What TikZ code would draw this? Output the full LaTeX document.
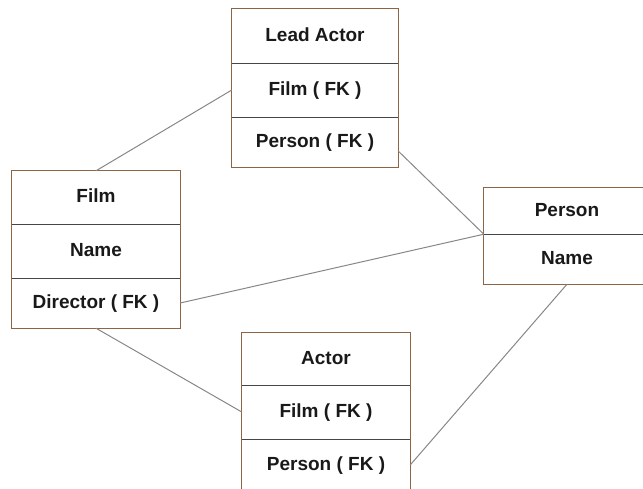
\documentclass[tikz,border=0pt]{standalone}
\usepackage{fontspec}
\setmainfont{Liberation Sans}
\definecolor{boxbrown}{RGB}{140,100,70}
\definecolor{divgray}{RGB}{70,70,70}
\definecolor{linkgray}{RGB}{135,135,135}
\begin{document}
\begin{tikzpicture}[x=1pt,y=-1pt,
  row/.style={inner sep=0pt, text height=14pt, text depth=4pt,
    font=\fontsize{19}{22}\selectfont\bfseries, text=black!90},
  frame/.style={draw=boxbrown, line width=1pt},
  divider/.style={draw=divgray, line width=0.9pt},
  link/.style={draw=linkgray, line width=1pt}]
\useasboundingbox (0,0) rectangle (643,488);
% Lead Actor
\node[row, minimum width=166pt, minimum height=54pt] (la1) at (315,36) {Lead Actor};
\node[row, minimum width=166pt, minimum height=54pt] (la2) at (315,90) {Film ( FK )};
\node[row, minimum width=166pt, minimum height=50pt] (la3) at (315,142) {Person ( FK )};
% Film
\node[row, minimum width=168pt, minimum height=53pt] (fi1) at (96,197.5) {Film};
\node[row, minimum width=168pt, minimum height=54pt] (fi2) at (96,251) {Name};
\node[row, minimum width=168pt, minimum height=50pt] (fi3) at (96,303) {Director ( FK )};
% Person
\node[row, minimum width=166pt, minimum height=46pt] (pe1) at (567,211) {Person};
\node[row, minimum width=166pt, minimum height=50pt] (pe2) at (567,259) {Name};
% Actor
\node[row, minimum width=168pt, minimum height=52pt] (ac1) at (326,359) {Actor};
\node[row, minimum width=168pt, minimum height=54pt] (ac2) at (326,412) {Film ( FK )};
\node[row, minimum width=168pt, minimum height=52pt] (ac3) at (326,465) {Person ( FK )};
% frames
\draw[frame] (la1.north west) rectangle (la3.south east);
\draw[divider] (la1.south west) -- (la1.south east);
\draw[divider] (la2.south west) -- (la2.south east);
\draw[frame] (fi1.north west) rectangle (fi3.south east);
\draw[divider] (fi1.south west) -- (fi1.south east);
\draw[divider] (fi2.south west) -- (fi2.south east);
\draw[frame] (pe1.north west) rectangle (pe2.south east);
\draw[divider] (pe1.south west) -- (pe1.south east);
\draw[frame] (ac1.north west) rectangle (ac3.south east);
\draw[divider] (ac1.south west) -- (ac1.south east);
\draw[divider] (ac2.south west) -- (ac2.south east);
% connectors
\draw[link] (fi1.north) -- (la2.west);
\draw[link] ([yshift=-9pt]la3.east) -- (pe1.south west);
\draw[link] (fi3.east) -- (pe1.south west);
\draw[link] (fi3.south) -- (ac2.west);
\draw[link] (pe2.south) -- (ac3.east);
\end{tikzpicture}
\end{document}
